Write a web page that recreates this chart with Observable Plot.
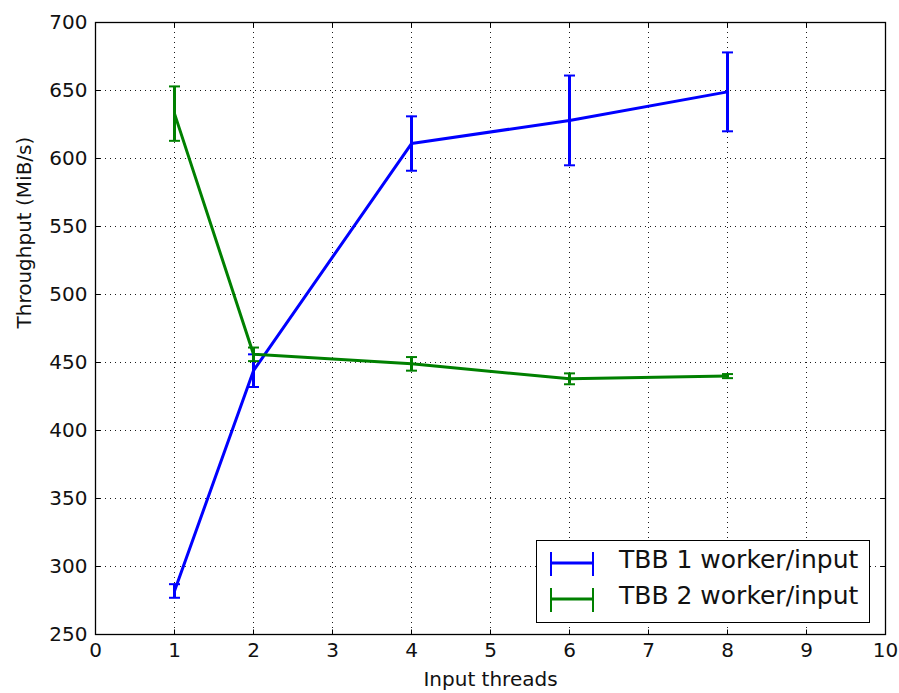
<!DOCTYPE html>
<html><head><meta charset="utf-8">
<script src="https://cdn.jsdelivr.net/npm/d3@7"></script>
<script src="https://cdn.jsdelivr.net/npm/@observablehq/plot@0.6"></script>
<style>
body{margin:0;background:#fff;font-family:"DejaVu Sans",sans-serif;}
#wrap{position:relative;width:899px;height:693px;overflow:hidden;}
#legend{position:absolute;left:536px;top:540px;width:334px;height:83px;border:1.5px solid #000;background:#fff;box-sizing:border-box;}
.lrow{position:absolute;left:0;height:36px;width:100%;}
.lrow svg{position:absolute;left:12px;top:3px;}
.lrow span{position:absolute;left:82px;top:0px;font-size:25px;color:#111;line-height:30px;white-space:nowrap;}
</style></head><body><div id="wrap"></div>
<script>
const threads = [1, 2, 4, 6, 8];
const tbb1Mean = [282, 444, 611, 628, 649];
const tbb1Err = [5, 12, 20, 33, 29];
const tbb2Mean = [633, 456, 449, 438, 440];
const tbb2Err = [20, 5, 5, 4, 1.5];
const seriesNames = ["TBB 1 worker/input", "TBB 2 worker/input"];
const seriesColors = ["#0000ff", "#008000"];
const xTicks = d3.range(0, 11, 1);
const yTicks = d3.range(250, 701, 50);
const xLabel = "Input threads";
const yLabel = "Throughput (MiB/s)";

const rows = [];
[[tbb1Mean, tbb1Err], [tbb2Mean, tbb2Err]].forEach(([m, e], s) => {
  threads.forEach((t, i) => rows.push({series: seriesNames[s], x: t, y: m[i], lo: m[i] - e[i], hi: m[i] + e[i]}));
});

const capSym = {draw(c) { c.moveTo(-5.5, 0); c.lineTo(5.5, 0); }};
const tickUp = {draw(c) { c.moveTo(0, 0); c.lineTo(0, -5); }};
const tickDown = {draw(c) { c.moveTo(0, 0); c.lineTo(0, 5); }};
const tickRight = {draw(c) { c.moveTo(0, 0); c.lineTo(5, 0); }};
const tickLeft = {draw(c) { c.moveTo(0, 0); c.lineTo(-5, 0); }};

const seriesMarks = seriesNames.flatMap(name => {
  const d = rows.filter(r => r.series === name);
  const col = seriesColors[seriesNames.indexOf(name)];
  return [
    Plot.line(d, {x: "x", y: "y", stroke: col, strokeWidth: 3}),
    Plot.ruleX(d, {x: "x", y1: "lo", y2: "hi", stroke: col, strokeWidth: 3}),
    Plot.dot(d, {x: "x", y: "lo", symbol: capSym, stroke: col, fill: "none", strokeWidth: 2}),
    Plot.dot(d, {x: "x", y: "hi", symbol: capSym, stroke: col, fill: "none", strokeWidth: 2})
  ];
});

const chart = Plot.plot({
  width: 899,
  height: 693,
  marginLeft: 95,
  marginRight: 14,
  marginTop: 22,
  marginBottom: 59,
  style: {fontFamily: "DejaVu Sans, sans-serif", fontSize: "20px", color: "#111", background: "#fff"},
  x: {domain: [0, 10]},
  y: {domain: [250, 700]},
  marks: [
    Plot.ruleX(xTicks, {x: d => d, stroke: "#000", strokeWidth: 0.9, strokeDasharray: "1,4"}),
    Plot.ruleY(yTicks, {y: d => d, stroke: "#000", strokeWidth: 0.9, strokeDasharray: "1,4"}),
    ...seriesMarks,
    Plot.dot(xTicks, {x: d => d, frameAnchor: "bottom", symbol: tickUp, stroke: "#000", fill: "none", strokeWidth: 1}),
    Plot.dot(xTicks, {x: d => d, frameAnchor: "top", symbol: tickDown, stroke: "#000", fill: "none", strokeWidth: 1}),
    Plot.dot(yTicks, {y: d => d, frameAnchor: "left", symbol: tickRight, stroke: "#000", fill: "none", strokeWidth: 1}),
    Plot.dot(yTicks, {y: d => d, frameAnchor: "right", symbol: tickLeft, stroke: "#000", fill: "none", strokeWidth: 1}),
    Plot.frame({stroke: "#000", strokeWidth: 1.3}),
    Plot.axisX(xTicks, {tickSize: 0, tickPadding: 8, label: null, fontSize: 20}),
    Plot.axisY(yTicks, {tickSize: 0, tickPadding: 8, label: null, fontSize: 20}),
    Plot.text([xLabel], {text: d => d, frameAnchor: "bottom", dy: 51, fontSize: 20}),
    Plot.text([yLabel], {text: d => d, frameAnchor: "left", dx: -71, rotate: -90, fontSize: 20})
  ]
});

const wrap = document.getElementById("wrap");
wrap.appendChild(chart);

const legend = document.createElement("div");
legend.id = "legend";
seriesNames.forEach((name, i) => {
  const row = document.createElement("div");
  row.className = "lrow";
  row.style.top = (4 + i * 36) + "px";
  const c = seriesColors[i];
  row.innerHTML = `<svg width="46" height="30"><line x1="2" y1="15" x2="44" y2="15" stroke="${c}" stroke-width="3"/><line x1="2" y1="4" x2="2" y2="28" stroke="${c}" stroke-width="2"/><line x1="44" y1="4" x2="44" y2="28" stroke="${c}" stroke-width="2"/></svg><span>${name}</span>`;
  legend.appendChild(row);
});
wrap.appendChild(legend);
</script>
</body></html>
